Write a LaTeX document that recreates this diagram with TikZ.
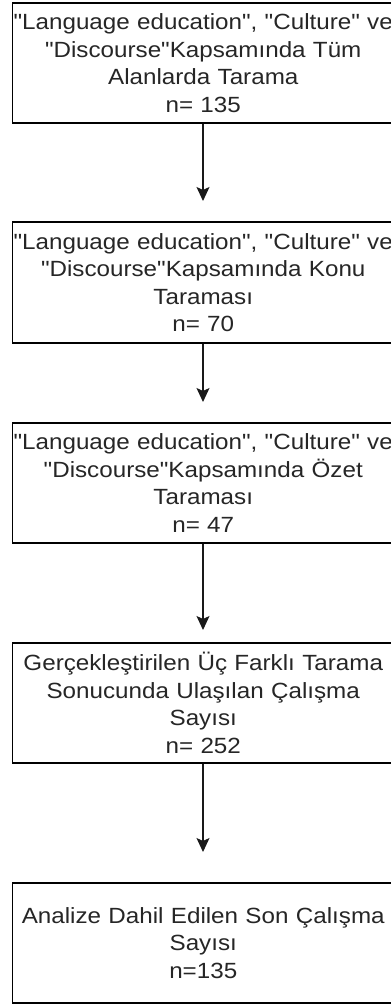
\documentclass[tikz,border=0pt]{standalone}
\usepackage{fontspec}
\newfontfamily\flowfont{Liberation Sans}[FakeStretch=1.1]
\usetikzlibrary{arrows.meta}
\begin{document}
\begin{tikzpicture}[x=1pt,y=1pt,
  flowbox/.style={draw=black, line width=1.3pt, minimum width=381.5pt, inner sep=0pt,
    text width=381pt, align=center, font=\flowfont\fontsize{22}{27.5}\selectfont, text=black!85},
  flowarrow/.style={draw=black!90, line width=1.2pt, -{Stealth[width=13pt,length=14pt,inset=3pt]}}
]
\useasboundingbox (0,0) rectangle (391,1005);
\clip (0,0) rectangle (391,1005);
\fill[white] (0,0) rectangle (391,1005);
\node[flowbox, minimum height=120pt] (b1) at (203.25,942) {"Language education", "Culture" ve\\ "Discourse"Kapsamında Tüm\\ Alanlarda Tarama\\ n= 135};
\node[flowbox, minimum height=121pt] (b2) at (203.25,722.5) {"Language education", "Culture" ve\\ "Discourse"Kapsamında Konu\\ Taraması\\ n= 70};
\node[flowbox, minimum height=120pt] (b3) at (203.25,522) {"Language education", "Culture" ve\\ "Discourse"Kapsamında Özet\\ Taraması\\ n= 47};
\node[flowbox, minimum height=120pt] (b4) at (203.25,302) {Gerçekleştirilen Üç Farklı Tarama\\ Sonucunda Ulaşılan Çalışma\\ Sayısı\\ n= 252};
\node[flowbox, minimum height=120pt] (b5) at (203.25,62) {Analize Dahil Edilen Son Çalışma\\ Sayısı\\ n=135\\[10pt]};
\coordinate (t1) at (203,804);
\coordinate (t2) at (203,603);
\coordinate (t3) at (203,375);
\coordinate (t4) at (203,153);
\draw[flowarrow] (b1.south -| t1) -- (t1);
\draw[flowarrow] (b2.south -| t2) -- (t2);
\draw[flowarrow] (b3.south -| t3) -- (t3);
\draw[flowarrow] (b4.south -| t4) -- (t4);
\end{tikzpicture}
\end{document}
